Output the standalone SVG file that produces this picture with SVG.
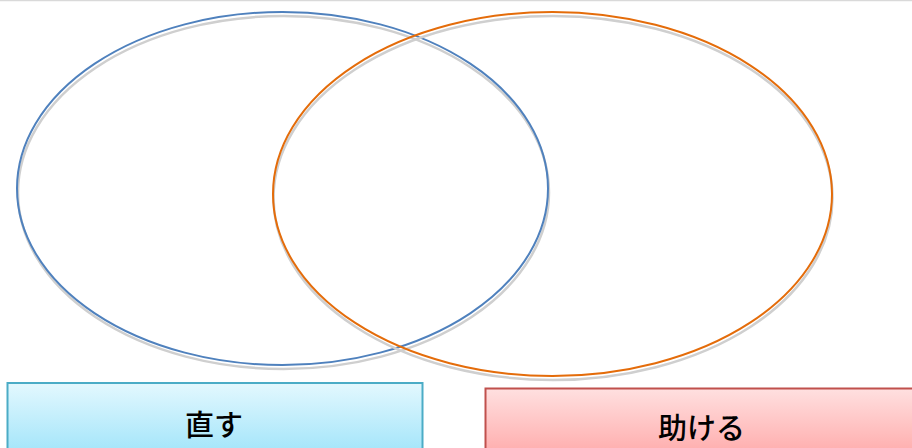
<svg xmlns="http://www.w3.org/2000/svg" width="912" height="448" viewBox="0 0 912 448">
<defs>
<linearGradient id="gBlue" x1="0" y1="0" x2="0" y2="1">
<stop offset="0" stop-color="#e3f8fe"/>
<stop offset="1" stop-color="#a3e5fa"/>
</linearGradient>
<linearGradient id="gRed" x1="0" y1="0" x2="0" y2="1">
<stop offset="0" stop-color="#ffe0e0"/>
<stop offset="1" stop-color="#ffa9a9"/>
</linearGradient>
<style>
.shadow{fill:none;stroke:#cfcfcf;stroke-width:2.5}
.lbl{font-family:"Noto Sans CJK JP","Noto Sans CJK SC",sans-serif;font-size:29px;font-weight:500;fill:#000;text-anchor:middle;dominant-baseline:central}
</style>
</defs>
<rect x="0" y="0" width="912" height="448" fill="#ffffff"/>
<line x1="0" y1="0.5" x2="912" y2="0.5" stroke="#d9d9d9" stroke-width="1.5"/>
<g id="set-naosu">
<ellipse class="shadow" cx="283.5" cy="192.5" rx="265.5" ry="176.5"/>
<ellipse cx="282.5" cy="188.5" rx="265.5" ry="176.5" fill="none" stroke="#4f81bd" stroke-width="2"/>
</g>
<g id="set-tasukeru">
<ellipse class="shadow" cx="553" cy="198" rx="279.5" ry="182"/>
<ellipse cx="552.5" cy="194" rx="279.5" ry="182" fill="none" stroke="#e46c0a" stroke-width="2"/>
</g>
<g id="box-naosu">
<rect x="7.5" y="383" width="415" height="70" fill="url(#gBlue)" stroke="#4bacc6" stroke-width="2"/>
<text class="lbl" x="214" y="423">直す</text>
</g>
<g id="box-tasukeru">
<rect x="485.5" y="388.5" width="433" height="70" fill="url(#gRed)" stroke="#c0504d" stroke-width="2"/>
<text class="lbl" x="701.5" y="426">助ける</text>
</g>
<g id="connectors"></g>
</svg>
